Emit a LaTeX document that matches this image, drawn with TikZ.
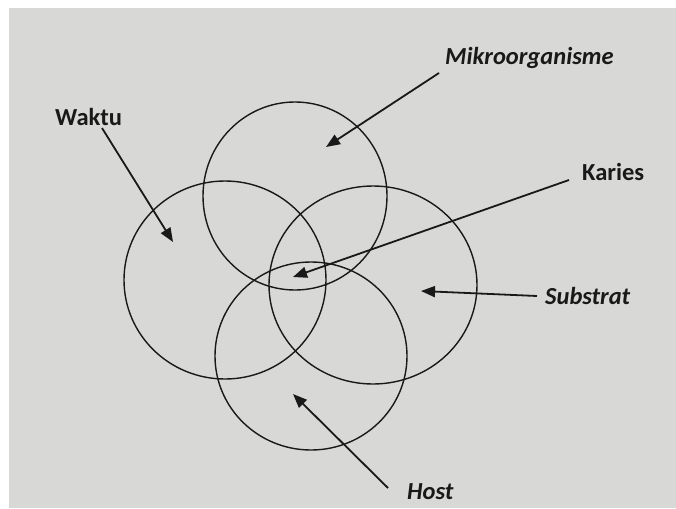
\documentclass[tikz,border=0pt]{standalone}
\usepackage{fontspec}
\setmainfont{Carlito}
\usetikzlibrary{arrows.meta}
\definecolor{bggray}{RGB}{216,216,214}
\tikzset{
  ring/.style={draw=black!90, line width=1.4pt},
  lbl/.style={font=\fontsize{24.5}{26}\selectfont\bfseries, inner sep=0pt, text=black!90},
  ilbl/.style={lbl, font=\fontsize{24.5}{26}\selectfont\bfseries\itshape},
  pointer/.style={draw=black!90, line width=1.8pt, -{Triangle[length=14pt,width=11pt]}}
}
\begin{document}
\begin{tikzpicture}[x=1pt,y=-1pt]
\useasboundingbox (0,0) rectangle (676,508);
\fill[white] (0,0) rectangle (676,508);
\fill[bggray] (9,8) rectangle (676,508);
% circles
\draw[ring] (295,196) ellipse [x radius=92, y radius=94];
\draw[ring] (225,280) ellipse [x radius=101, y radius=99];
\draw[ring] (373,285) ellipse [x radius=104, y radius=99];
\draw[ring] (311,356) ellipse [x radius=96, y radius=94];
% labels
\node[ilbl, anchor=west] (mikro) at (445,58) {Mikroorganisme};
\node[lbl, anchor=west] (waktu) at (55,117) {Waktu};
\node[lbl, anchor=west] (karies) at (582,172) {Karies};
\node[ilbl, anchor=west] (substrat) at (545,296) {Substrat};
\node[ilbl, anchor=west] (host) at (407,492) {Host};
% arrow ends
\coordinate (mS) at (439,73);  \coordinate (mT) at (326,147);
\coordinate (wS) at (102,128); \coordinate (wT) at (173,242);
\coordinate (kS) at (569,180); \coordinate (kT) at (293,277);
\coordinate (sS) at (537,296); \coordinate (sT) at (421,291);
\coordinate (hS) at (388,488); \coordinate (hT) at (293,394);
\draw[pointer] (mS) -- (mT);
\draw[pointer] (wS) -- (wT);
\draw[pointer] (kS) -- (kT);
\draw[pointer] (sS) -- (sT);
\draw[pointer] (hS) -- (hT);
\end{tikzpicture}
\end{document}
